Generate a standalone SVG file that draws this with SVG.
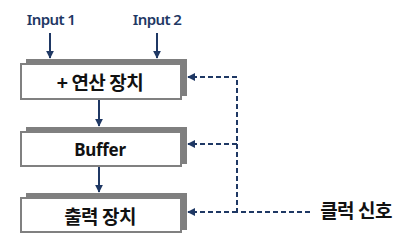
<svg xmlns="http://www.w3.org/2000/svg" width="412" height="250" viewBox="0 0 412 250">
<defs>
<style>
.shadow{fill:#7f7f7f}
.box{fill:#ffffff;stroke:#808080;stroke-width:2}
.lbl{font-family:"Noto Sans CJK KR","Noto Sans",sans-serif;font-weight:bold;font-size:19px;fill:#111;text-anchor:middle;dominant-baseline:central;letter-spacing:-0.5px}
.eng{font-family:"Noto Sans","Noto Sans CJK KR",sans-serif;font-weight:bold;font-size:17px;fill:#111;text-anchor:middle;dominant-baseline:central;letter-spacing:-0.3px}
.inp{font-family:"Noto Sans","Noto Sans CJK KR",sans-serif;font-weight:600;font-size:15px;fill:#1f3864;text-anchor:middle;dominant-baseline:central;letter-spacing:-0.6px}
.solid{stroke:#1f3864;stroke-width:2;fill:none;marker-end:url(#ah)}
.dash{stroke:#1f3864;stroke-width:2;fill:none;stroke-dasharray:5 3}
.dasharr{stroke:#1f3864;stroke-width:2;fill:none;stroke-dasharray:5 3;marker-end:url(#ah)}
</style>
<marker id="ah" viewBox="0 0 10 10" refX="9" refY="5" markerWidth="4" markerHeight="4" orient="auto" markerUnits="strokeWidth">
<path d="M0,0 L10,5 L0,10 z" fill="#1f3864"/>
</marker>
</defs>
<g id="input1"><text class="inp" x="51" y="19">Input 1</text></g>
<g id="input2"><text class="inp" x="157" y="19">Input 2</text></g>
<g id="adder">
<rect class="shadow" x="26" y="59" width="161" height="37"/>
<rect class="box" x="21" y="64" width="160" height="35"/>
<text class="lbl" x="100" y="81">+ 연산 장치</text>
</g>
<g id="buffer">
<rect class="shadow" x="26" y="127" width="161" height="37"/>
<rect class="box" x="21" y="132" width="160" height="34"/>
<text class="eng" x="100" y="149">Buffer</text>
</g>
<g id="output">
<rect class="shadow" x="26" y="193" width="161" height="37"/>
<rect class="box" x="21" y="198" width="160" height="34"/>
<text class="lbl" x="100" y="215">출력 장치</text>
</g>
<g id="clock"><text class="lbl" x="356" y="209">클럭 신호</text></g>
<g id="connectors">
<line class="solid" x1="50" y1="33" x2="50" y2="58"/>
<line class="solid" x1="157" y1="33" x2="157" y2="58"/>
<line class="solid" x1="99" y1="100" x2="99" y2="126"/>
<line class="solid" x1="99" y1="167" x2="99" y2="192"/>
<path class="dash" d="M310,212 L237,212 L237,77"/>
<line class="dasharr" x1="237" y1="77" x2="188" y2="77"/>
<line class="dasharr" x1="237" y1="144" x2="188" y2="144"/>
<line class="dasharr" x1="237" y1="212" x2="188" y2="212"/>
</g>
</svg>
